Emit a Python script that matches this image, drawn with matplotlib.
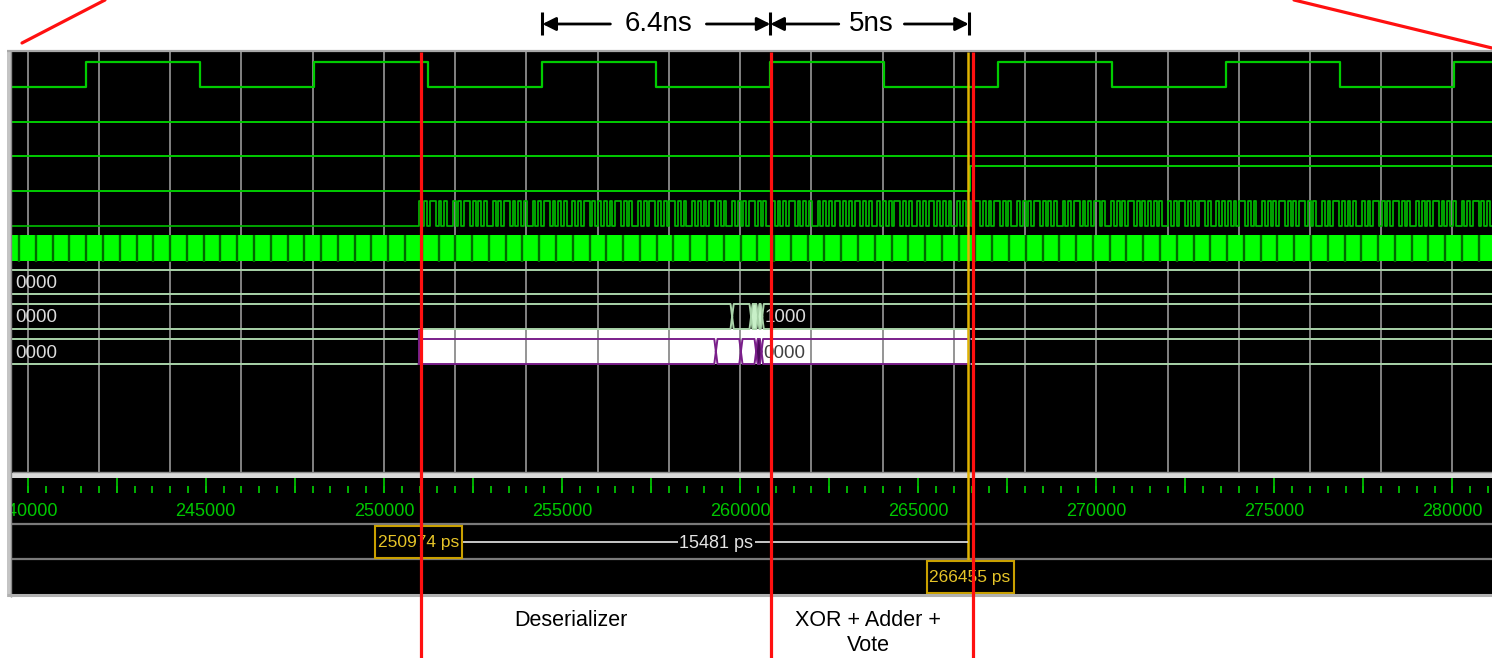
import matplotlib
matplotlib.use("Agg")
import matplotlib.pyplot as plt
from matplotlib.patches import Rectangle, Polygon
import numpy as np

plt.rcParams['font.family'] = ['Liberation Sans', 'DejaVu Sans']

# ---------------- data (times in ps) ----------------
clk_rise = [241650, 248050, 254450, 260850, 267250, 273650, 280050]
clk_fall = [244850, 251250, 257650, 264050, 270450, 276850]
cursor_a = 250974
cursor_b = 266455
cursor_a_label = "250974 ps"
cursor_b_label = "266455 ps"
delta_label = "15481 ps"
rowD_rise = 266455
data_start = 250974
data_bit_ps = 80
data_bits_rows = [
    "10101101 01001010 11010101 00101011 01010100 10101101 01010010 10110101",
    "01010110 10100101 01101010 11010100 10101011 01010010 10101101 01001010",
    "10110101 01001010 10110101 01101010 01010101 10101001 01011010 10100101",
    "01011010 10110101 00101010 11010101 00101011 01010110 10010101 01101010",
    "10101001 01011010 10110100 10101010 11010100 10101011 01010110 10100101",
    "01101010 10010101 10101011 01010010 10101101 01010010 10110101 01011010",
]
fast_clk_first = 239759
fast_clk_period = 471
bus1_values = ["0000"]
bus2_edges = [259776, 260309, 260500, 260620]
bus2_values = ["0000", "", "", "", "1000"]
bus3_edges = [259320, 260022, 260450, 260600]
bus3_values = ["0000", "", "", "", "0000"]
axis_labels = [240000, 245000, 250000, 255000, 260000, 265000, 270000, 275000, 280000]
annot_times = [254450, 260850, 266420]
annot_texts = ["6.4ns", "5ns"]
marker_times = [251030, 260870, 266540]
stage_labels = ["Deserializer", "XOR + Adder +\nVote"]

# ---------------- layout helpers ----------------
W, H = 1492, 658
PX0, T0, SCALE = 27.7, 240000, 0.03562


def tx(p):
    """pixel column -> time (ps)"""
    return T0 + (p - PX0) / SCALE


def dt(p):
    """pixel width -> ps width"""
    return p / SCALE


tL, tR = tx(12), tx(W)

fig = plt.figure(figsize=(W / 100, H / 100), dpi=100)
fig.patch.set_facecolor('white')

P_TOP, P_BOT = 52, 594
ax = fig.add_axes([12 / W, 1 - P_BOT / H, (W - 12) / W, (P_BOT - P_TOP) / H])
ax.set_xlim(tL, tR)
ax.set_ylim(P_BOT, P_TOP)
ax.set_facecolor('black')
ax.set_xticks([])
ax.set_yticks([])
for s in ax.spines.values():
    s.set_visible(False)

GREEN = '#00cc00'
PALE = '#a9d3a9'
PURPLE = '#7a1f8a'

# grid
grid_t = np.arange(238000, 284000, 2000)
ax.vlines(grid_t, P_TOP, 472, color='#8c8c8c', lw=1.3, zorder=2)

# row 3 white highlight (behind grid)
ax.add_patch(Rectangle((cursor_a, 329), cursor_b - cursor_a, 35,
                       facecolor='white', edgecolor='none', zorder=1))

# clock
edges = sorted([(t, 1) for t in clk_rise] + [(t, 0) for t in clk_fall])
LOW, HIGH = 87, 62
xs, ys = [tL], [LOW]
cur = LOW
for t, lv in edges:
    ny = HIGH if lv else LOW
    xs += [t, t]
    ys += [cur, ny]
    cur = ny
xs.append(tR)
ys.append(cur)
ax.plot(xs, ys, color=GREEN, lw=1.6, zorder=3)

# flat rows
ax.hlines([121.7, 155.7], tL, tR, color=GREEN, lw=1.4, zorder=3)
ax.plot([tL, rowD_rise, rowD_rise, tR], [190.7, 190.7, 166, 166],
        color=GREEN, lw=1.4, zorder=3)

# fast serial data
bits = "".join(r.replace(" ", "") for r in data_bits_rows)
D_LO, D_HI = 225.7, 201
bx = [tL] + [data_start + i * data_bit_ps for i in range(len(bits) + 1)]
by = [D_LO] + [D_HI if b == '1' else D_LO for b in bits] + [D_HI if bits[-1] == '1' else D_LO]
ax.plot(bx, by, drawstyle='steps-post', color='#00b800', lw=1.25, zorder=3)

# very fast clock rendered as filled bar
ax.add_patch(Rectangle((tL, 235), tR - tL, 26, facecolor='#00ff00',
                       edgecolor='none', zorder=3))
slits = np.arange(fast_clk_first, tR, fast_clk_period)
ax.vlines(slits, 235, 262, color='#006a00', lw=1.7, zorder=3.1)


# buses
def draw_bus(top, bot, edges_, t0, t1, color, fill_narrow=None, delta=45, z=3):
    mid = (top + bot) / 2
    bounds = [t0] + list(edges_) + [t1]
    for a, b in zip(bounds[:-1], bounds[1:]):
        da = delta if a in edges_ else 0
        db = delta if b in edges_ else 0
        if (b - a) < (da + db):
            da = db = (b - a) / 2
        ax.plot([a, a + da, b - db, b], [mid if da else top, top, top, mid if db else top],
                color=color, lw=1.4, zorder=z)
        ax.plot([a, a + da, b - db, b], [mid if da else bot, bot, bot, mid if db else bot],
                color=color, lw=1.4, zorder=z)
        if fill_narrow and (b - a) < 200 and da and db:
            ax.add_patch(Polygon([(a, mid), (a + da, top), (b - db, top), (b, mid),
                                  (b - db, bot), (a + da, bot)], closed=True,
                                 facecolor=fill_narrow, edgecolor=color, lw=1, zorder=z))


draw_bus(270, 294, [], tL, tR, PALE)
draw_bus(304, 329, bus2_edges, tL, tR, PALE, fill_narrow='#c8f0c8')
ax.hlines([339, 364], tL, cursor_a, color=PALE, lw=1.4, zorder=3)
ax.hlines([339, 364], cursor_b, tR, color=PALE, lw=1.4, zorder=3)
draw_bus(339, 364, bus3_edges, cursor_a, cursor_b, PURPLE, fill_narrow='#4a0a5a', z=3.2)
ax.vlines(cursor_a, 329, 364, color=PURPLE, lw=1.4, zorder=3.3)
ax.vlines(cursor_b - dt(1), 329, 364, color='#2040ff', lw=1.6, zorder=3.3)

# bus value texts
bus_y = [283, 318, 353]
BFS = 13.5
ax.text(tx(15), bus_y[0], bus1_values[0], color='#dcdcdc', fontsize=BFS,
        ha='left', va='center', zorder=4)
ax.text(tx(15), bus_y[1], bus2_values[0], color='#dcdcdc', fontsize=BFS,
        ha='left', va='center', zorder=4)
ax.text(tx(15), bus_y[2], bus3_values[0], color='#dcdcdc', fontsize=BFS,
        ha='left', va='center', zorder=4)
ax.text(bus2_edges[-1] + dt(2), bus_y[1], bus2_values[-1], color='#dcdcdc',
        fontsize=BFS, ha='left', va='center', zorder=4)
ax.text(bus3_edges[-1] + dt(2), bus_y[2], bus3_values[-1], color='#404040',
        fontsize=BFS, ha='left', va='center', zorder=4)

# timeline separator
ax.add_patch(Rectangle((tL, 472.5), tR - tL, 5, facecolor='#dadada',
                       edgecolor='none', zorder=4))
ax.hlines(472, tL, tR, color='#8a8a8a', lw=1, zorder=4)

# ticks
minor_t = np.arange(239500, 281500, 500)
major_t = np.arange(237500, 282500, 2500)
ax.vlines(minor_t, 486, 493, color='#00c000', lw=1.3, zorder=4)
ax.vlines(major_t, 478, 493, color='#00c000', lw=1.3, zorder=4)
for t in axis_labels:
    ax.text(t, 511, str(t), color='#00c800', fontsize=13, ha='center',
            va='center', clip_on=True, zorder=4)
ax.hlines([524, 559], tL, tR, color='#7a7a7a', lw=1.6, zorder=4)

# cursors
YEL = '#e2b400'
ax.vlines(cursor_b - dt(2), P_TOP, 561, color=YEL, lw=1.8, zorder=5)
hw = dt(43.5)
for c, lab, y0 in [(cursor_a, cursor_a_label, 526), (cursor_b, cursor_b_label, 561)]:
    ax.add_patch(Rectangle((c - hw, y0), 2 * hw, 32, facecolor='black',
                           edgecolor='#c9a000', lw=1.5, zorder=6))
    ax.text(c, y0 + 16.5, lab, color='#e6c428', fontsize=12.5, ha='center',
            va='center', zorder=7)
ax.hlines(542, cursor_a + hw, cursor_b - dt(2), color='#d8d8d8', lw=1.3, zorder=5)
ax.text((cursor_a + hw + cursor_b) / 2, 543, delta_label, color='#e4e4e4',
        fontsize=13, ha='center', va='center', zorder=6,
        bbox=dict(boxstyle='square,pad=0.08', facecolor='black', edgecolor='none'))

# ---------------- overlay (figure-level decorations) ----------------
ov = fig.add_axes([0, 0, 1, 1], zorder=5)
ov.set_xlim(tx(0), tx(W))
ov.set_ylim(H, 0)
ov.axis('off')
ov.patch.set_alpha(0)

# panel borders
ov.add_patch(Rectangle((tx(7), 50), dt(5), 547, facecolor='#c4c4c4', edgecolor='none'))
ov.vlines(tx(11), 50, 597, color='#8a8a8a', lw=1)
ov.hlines(51, tx(7), tx(W), color='#a8a8a8', lw=1.6)
ov.hlines(595, tx(7), tx(W), color='#b0b0b0', lw=2.2)

# red markers
RED = '#ff1010'
ov.vlines(marker_times, P_TOP, H, color=RED, lw=2.3)
ov.plot([tx(22), tx(105)], [43, 0], color=RED, lw=2.3, solid_capstyle='round')
ov.plot([tx(1294), tx(1492)], [0, 48], color=RED, lw=2.3, solid_capstyle='round')

# top annotations
ov.vlines(annot_times, 12, 35, color='black', lw=2.2)
AY = 24
for (a, b), lab in zip(zip(annot_times[:-1], annot_times[1:]), annot_texts):
    mid = (a + b) / 2 + dt(2)
    ov.text(mid, AY, lab, fontsize=20, ha='center', va='center', color='black')
    half = dt(len(lab) * 7.6 + 10)
    for start, end in [(mid - half, a), (mid + half, b)]:
        ov.annotate('', xy=(end, AY), xytext=(start, AY),
                    arrowprops=dict(arrowstyle='-|>', color='black', lw=2,
                                    mutation_scale=20, shrinkA=0, shrinkB=0))

# stage labels
ov.text(tx(571), 621, stage_labels[0], fontsize=15.5, ha='center', va='center', color='black')
ov.text(tx(868), 633, stage_labels[1], fontsize=15.5, ha='center', va='center',
        color='black', linespacing=1.3)

fig.savefig('out.png', dpi=100, facecolor='white')
